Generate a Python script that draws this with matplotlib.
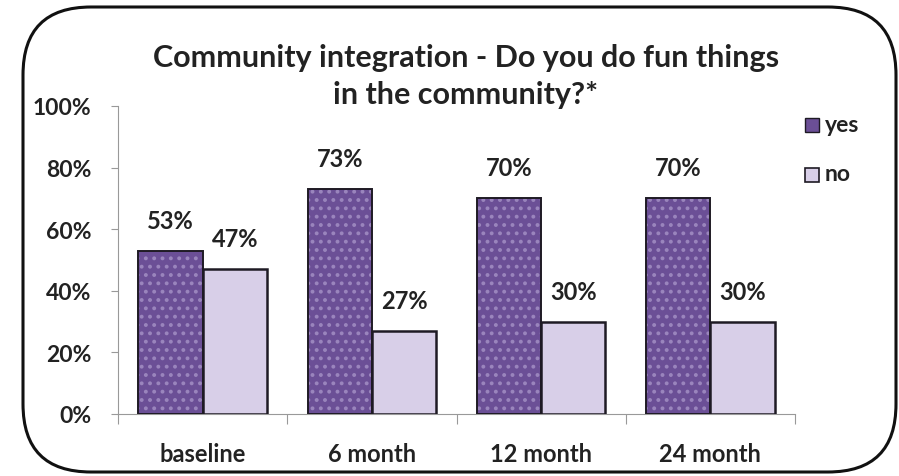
import matplotlib
matplotlib.use("Agg")
import matplotlib.pyplot as plt
from matplotlib.patches import FancyBboxPatch, Rectangle
import numpy as np

categories = ["baseline", "6 month", "12 month", "24 month"]
yes_vals = [53, 73, 70, 70]
no_vals = [47, 27, 30, 30]
yticks = [0, 20, 40, 60, 80, 100]

plt.rcParams['font.family'] = ['Lato', 'DejaVu Sans']
plt.rcParams['hatch.linewidth'] = 1.6

yes_color = "#6b4f96"
yes_dots = "#9a85bd"
no_color = "#d8cfe8"
edge = "#1e1a24"
txt = "#222222"

W, H = 899, 477
fig = plt.figure(figsize=(W / 100, H / 100), dpi=100)

# background layer in pixel units for the rounded frame, title and legend
bg = fig.add_axes([0, 0, 1, 1])
bg.set_xlim(0, W)
bg.set_ylim(H, 0)
bg.axis("off")
bg.add_patch(FancyBboxPatch((23, 8), 873, 465, boxstyle="round,pad=0,rounding_size=68",
                            facecolor="none", edgecolor="#111111", linewidth=2.2))

bg.text(466, 58, "Community integration - Do you do fun things",
        ha="center", va="center", fontsize=22, fontweight="bold", color=txt)
bg.text(466, 95, "in the community?*",
        ha="center", va="center", fontsize=22, fontweight="bold", color=txt)

# legend
bg.add_patch(Rectangle((805, 119), 14, 14, facecolor=yes_color, edgecolor=edge, linewidth=1))
bg.text(825, 125, "yes", ha="left", va="center", fontsize=16.5, fontweight="bold", color=txt)
bg.add_patch(Rectangle((805, 169), 14, 14, facecolor=no_color, edgecolor=edge, linewidth=1.2))
bg.text(825, 175, "no", ha="left", va="center", fontsize=16.5, fontweight="bold", color=txt)

ax = fig.add_axes([118 / W, 1 - 415 / H, (795 - 118) / W, (415 - 107) / H])

x = np.arange(len(categories))
w = 0.38
ax.bar(x - w / 2, yes_vals, w, color=yes_color, edgecolor=yes_dots, hatch="..", linewidth=0, zorder=2)
ax.bar(x - w / 2, yes_vals, w, color="none", edgecolor=edge, linewidth=1.4, zorder=3)
ax.bar(x + w / 2, no_vals, w, color=no_color, edgecolor=edge, linewidth=1.8, zorder=3)

for i in range(len(categories)):
    ax.annotate("%d%%" % yes_vals[i], (x[i] - w / 2, yes_vals[i]), xytext=(0, 22),
                textcoords="offset points", ha="center", va="center",
                fontsize=17, fontweight="bold", color=txt)
    ax.annotate("%d%%" % no_vals[i], (x[i] + w / 2, no_vals[i]), xytext=(0, 22),
                textcoords="offset points", ha="center", va="center",
                fontsize=17, fontweight="bold", color=txt)

ax.set_xlim(-0.5, len(categories) - 0.5)
ax.set_ylim(0, 100)
ax.set_yticks(yticks)
ax.set_yticklabels(["%d%%" % t for t in yticks], fontsize=16.5, fontweight="bold", color=txt)
ax.set_xticks(np.arange(len(categories) + 1) - 0.5)
ax.set_xticklabels([])
ax.set_xticks(x, minor=True)
ax.set_xticklabels(categories, minor=True, fontsize=17, fontweight="bold", color=txt)
ax.tick_params(axis="x", which="major", length=7, color="#999999", direction="out")
ax.tick_params(axis="x", which="minor", length=0, pad=20)
ax.tick_params(axis="y", length=5, color="#999999", pad=14)
for s in ["top", "right"]:
    ax.spines[s].set_visible(False)
for s in ["left", "bottom"]:
    ax.spines[s].set_color("#999999")
ax.set_facecolor("none")

fig.savefig("out.png", dpi=100)
